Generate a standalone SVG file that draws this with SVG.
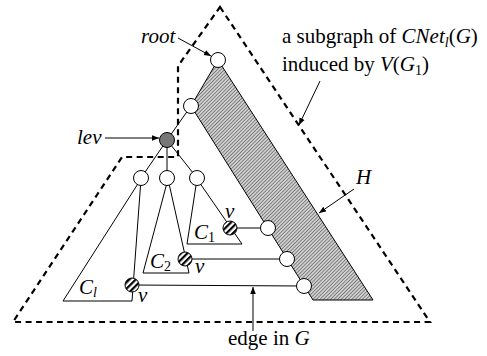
<svg xmlns="http://www.w3.org/2000/svg" width="487" height="356" viewBox="0 0 487 356">
<defs>
<pattern id="fine" patternUnits="userSpaceOnUse" width="2.5" height="2.5" patternTransform="rotate(45)">
<rect width="2.5" height="2.5" fill="#d0d0d0"/>
<line x1="0" y1="0" x2="0" y2="2.5" stroke="#444" stroke-width="1.1"/>
</pattern>
<pattern id="stripe" patternUnits="userSpaceOnUse" width="4.5" height="4.5" patternTransform="rotate(45)">
<rect width="4.5" height="4.5" fill="#fff"/>
<line x1="0" y1="0" x2="0" y2="4.5" stroke="#000" stroke-width="4.4"/>
</pattern>
<marker id="ah" viewBox="0 0 10 10" refX="10" refY="5" markerWidth="7" markerHeight="7" markerUnits="userSpaceOnUse" orient="auto">
<path d="M0,1 L10,5 L0,9 Z" fill="#000"/>
</marker>
</defs>
<style>
.t{font-size:21px;fill:#000}
.i{font-style:italic}
.s{font-size:14px}
.ln{stroke:#000;stroke-width:1;fill:none}
.dash{stroke:#000;stroke-width:2.2;fill:none;stroke-dasharray:6,4.5}
.arr{stroke:#000;stroke-width:1;fill:none;marker-end:url(#ah)}
.node{fill:#fff;stroke:#000;stroke-width:1}
.hv{fill:url(#stripe);stroke:#000;stroke-width:1}
</style>

<g id="region-outer">
<path class="dash" d="M220,7 L430,322 L13,322 L122,157 L178,157 L178,66 Z"/>
</g>
<g id="H">
<polygon points="218,60 373,300 313,300 191,106" fill="url(#fine)" stroke="#000" stroke-width="1"/>
</g>
<g id="subtree-C1">
<polyline class="ln" points="197,179 187,244 242,244 197,179"/>
</g>
<g id="subtree-C2">
<polyline class="ln" points="168,179 143,273 189,273 168,179"/>
</g>
<g id="subtree-Cl">
<polyline class="ln" points="141,179 63,301 132,301 141,179"/>
</g>

<g id="connectors">
<line class="ln" x1="167" y1="140" x2="191" y2="106"/>
<line class="ln" x1="167" y1="140" x2="141" y2="178"/>
<line class="ln" x1="167" y1="140" x2="167" y2="178"/>
<line class="ln" x1="167" y1="140" x2="197" y2="178"/>
<line class="ln" x1="230" y1="228" x2="268" y2="228" stroke="#333"/>
<line class="ln" x1="185" y1="259" x2="287" y2="259" stroke="#333"/>
<line class="ln" x1="132" y1="285" x2="304" y2="286" stroke="#333"/>
<line class="arr" x1="178" y1="38" x2="211" y2="56"/>
<line class="arr" x1="105" y1="138" x2="159" y2="138"/>
<line class="arr" x1="320" y1="81" x2="299" y2="125"/>
<line class="arr" x1="354" y1="189" x2="319" y2="213"/>
<line class="arr" x1="253" y1="331" x2="253" y2="287"/>
</g>

<g id="root"><circle class="node" cx="218" cy="60" r="7.5"/></g>
<g id="n2"><circle class="node" cx="191" cy="106" r="7.5"/></g>
<g id="lev"><circle cx="167" cy="140" r="7.5" fill="#777" stroke="#000" stroke-width="1"/></g>
<g id="c1"><circle class="node" cx="141" cy="178" r="7.5"/></g>
<g id="c2"><circle class="node" cx="167" cy="178" r="7.5"/></g>
<g id="c3"><circle class="node" cx="197" cy="178" r="7.5"/></g>
<g id="h1"><circle class="node" cx="268" cy="228" r="7.5"/></g>
<g id="h2"><circle class="node" cx="287" cy="259" r="7.5"/></g>
<g id="h3"><circle class="node" cx="304" cy="286" r="7.5"/></g>
<g id="v1"><circle class="hv" cx="230" cy="228" r="7"/></g>
<g id="v2"><circle class="hv" cx="185" cy="259" r="7"/></g>
<g id="vl"><circle class="hv" cx="132" cy="285" r="7"/></g>

<g id="labels" font-family="'Liberation Serif', 'Times New Roman', 'DejaVu Serif', serif">
<text class="t i" x="141" y="43">root</text>
<text class="t i" x="77" y="144">lev</text>
<text class="t" x="282" y="43">a subgraph of <tspan class="i">CNet</tspan><tspan class="i s" dy="4">l</tspan><tspan dy="-4">(</tspan><tspan class="i">G</tspan>)</text>
<text class="t" x="282" y="71">induced by <tspan class="i">V</tspan>(<tspan class="i">G</tspan><tspan class="s" dy="4">1</tspan><tspan dy="-4">)</tspan></text>
<text class="t i" x="356" y="184">H</text>
<text class="t" x="228" y="345">edge in <tspan class="i">G</tspan></text>
<text class="t i" x="194" y="239">C<tspan class="s" font-style="normal" dy="3">1</tspan></text>
<text class="t i" x="225" y="218">v</text>
<text class="t i" x="150" y="268">C<tspan class="s" font-style="normal" dy="3">2</tspan></text>
<text class="t i" x="195" y="273">v</text>
<text class="t i" x="79" y="294">C<tspan class="s" dy="3">l</tspan></text>
<text class="t i" x="138" y="302">v</text>
</g>
</svg>
